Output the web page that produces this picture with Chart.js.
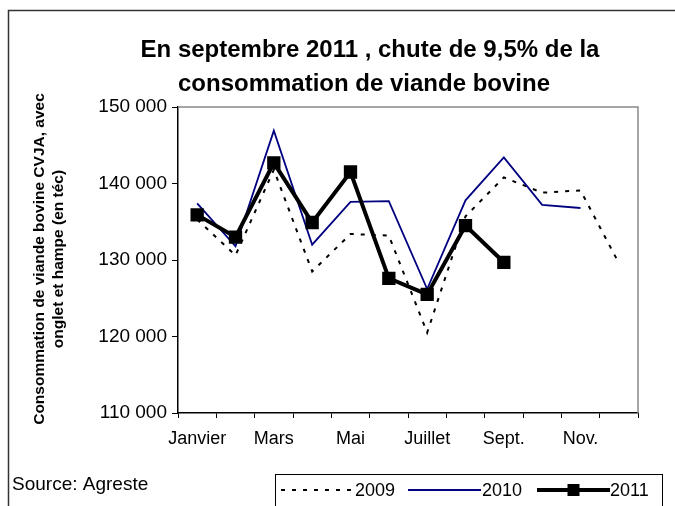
<!DOCTYPE html>
<html>
<head>
<meta charset="utf-8">
<script src="https://cdn.jsdelivr.net/npm/chart.js@4/dist/chart.umd.min.js"></script>
<style>
html, body { margin: 0; padding: 0; background: #fff; }
</style>
</head>
<body>
<canvas id="myLineChart" width="675" height="506"></canvas>
<script>
// données (tonnes équivalent carcasse)
var months = ['Janvier', 'Février', 'Mars', 'Avril', 'Mai', 'Juin', 'Juillet', 'Août', 'Sept.', 'Oct.', 'Nov.', 'Déc.'];
var tickLabels = ['Janvier', '', 'Mars', '', 'Mai', '', 'Juillet', '', 'Sept.', '', 'Nov.', ''];
var conso2009 = [135300, 130600, 141800, 128500, 133400, 133200, 120500, 135700, 140800, 138800, 139100, 129600];
var conso2010 = [137400, 131800, 146900, 132000, 137600, 137700, 126200, 137800, 143400, 137200, 136800, null];
var conso2011 = [135900, 133000, 142700, 134900, 141500, 127600, 125500, 134500, 129700, null, null, null];
var seriesLabels = ['2009', '2010', '2011'];

var FONT = "'Liberation Sans', Arial, sans-serif";

function formatNb(v) {
    return String(v).replace(/\B(?=(\d{3})+(?!\d))/g, ' ');
}

// cadre, titres, source et légende dessinés à la main
var decor = {
    id: 'decor',
    afterDraw: function (chart) {
        var ctx = chart.ctx;
        var area = chart.chartArea;
        ctx.save();

        // cadre extérieur
        ctx.strokeStyle = '#333';
        ctx.lineWidth = 1.5;
        ctx.strokeRect(8.5, 10.5, 700, 600);

        // bord haut et droit de la zone de tracé
        ctx.strokeStyle = '#888';
        ctx.lineWidth = 1.5;
        ctx.beginPath();
        ctx.moveTo(area.left, area.top);
        ctx.lineTo(area.right, area.top);
        ctx.lineTo(area.right, area.bottom);
        ctx.stroke();

        // titre
        ctx.fillStyle = '#000';
        ctx.textAlign = 'center';
        ctx.textBaseline = 'alphabetic';
        ctx.font = 'bold 24px ' + FONT;
        ctx.fillText('En septembre 2011 , chute de 9,5% de la', 370, 57);
        ctx.fillText('consommation de viande bovine', 364, 91);

        // titre axe Y
        ctx.save();
        ctx.translate(0, 259);
        ctx.rotate(-Math.PI / 2);
        ctx.font = 'bold 15.5px ' + FONT;
        ctx.textBaseline = 'middle';
        ctx.fillText('Consommation de viande bovine CVJA, avec', 0, 40);
        ctx.fillText('onglet et hampe (en téc)', 0, 59);
        ctx.restore();

        // source
        ctx.textAlign = 'left';
        ctx.font = '19px ' + FONT;
        ctx.fillText('Source: Agreste', 12, 490);

        // légende
        ctx.strokeStyle = '#000';
        ctx.lineWidth = 1;
        ctx.strokeRect(275.5, 474.5, 387, 50);
        var items = [
            { x1: 281, x2: 355, tx: 355 },
            { x1: 408, x2: 481, tx: 482 },
            { x1: 537, x2: 610, tx: 610 }
        ];
        var ly = 490;
        chart.data.datasets.forEach(function (ds, i) {
            var it = items[i];
            ctx.save();
            ctx.strokeStyle = ds.borderColor;
            ctx.lineWidth = ds.borderWidth;
            ctx.setLineDash(ds.borderDash || []);
            ctx.beginPath();
            ctx.moveTo(it.x1, ly);
            ctx.lineTo(it.x2, ly);
            ctx.stroke();
            ctx.restore();
            if (ds.pointRadius) {
                ctx.fillStyle = ds.pointBackgroundColor;
                ctx.fillRect((it.x1 + it.x2) / 2 - 6, ly - 6, 12, 12);
            }
            ctx.fillStyle = '#000';
            ctx.font = '18px ' + FONT;
            ctx.textBaseline = 'middle';
            ctx.fillText(ds.label, it.tx, ly + 1);
        });

        ctx.restore();
    }
};

var ctx = document.getElementById('myLineChart').getContext('2d');

var myLineChart = new Chart(ctx, {
    type: 'line',
    data: {
        labels: months,
        datasets: [{
            label: seriesLabels[0],
            data: conso2009,
            borderColor: '#000',
            borderWidth: 2,
            borderDash: [4, 7],
            pointRadius: 0,
            order: 2
        }, {
            label: seriesLabels[1],
            data: conso2010,
            borderColor: '#000080',
            borderWidth: 1.8,
            pointRadius: 0,
            order: 1
        }, {
            label: seriesLabels[2],
            data: conso2011,
            borderColor: '#000',
            borderWidth: 4,
            pointStyle: 'rect',
            pointRadius: 8,
            pointBorderWidth: 2,
            pointBackgroundColor: '#000',
            pointBorderColor: '#000',
            order: 0
        }]
    },
    options: {
        responsive: false,
        animation: false,
        devicePixelRatio: 1,
        layout: {
            padding: { top: 107, right: 37, left: 0, bottom: 0 }
        },
        plugins: {
            legend: { display: false },
            title: { display: false },
            tooltip: { enabled: false }
        },
        scales: {
            x: {
                offset: true,
                grid: { offset: true, drawOnChartArea: false, tickLength: 5, color: '#000' },
                border: { color: '#000', width: 1.5 },
                ticks: {
                    autoSkip: false,
                    maxRotation: 0,
                    padding: 10,
                    color: '#000',
                    font: { family: FONT, size: 18 },
                    callback: function (val, index) { return tickLabels[index]; }
                },
                afterFit: function (scale) { scale.height = 93; }
            },
            y: {
                min: 110000,
                max: 150000,
                grid: { drawOnChartArea: false, tickLength: 6, color: '#000' },
                border: { color: '#000', width: 1.5 },
                ticks: {
                    stepSize: 10000,
                    padding: 5,
                    color: '#000',
                    font: { family: FONT, size: 19 },
                    callback: function (v) { return formatNb(v); }
                },
                afterFit: function (scale) { scale.width = 178; }
            }
        }
    },
    plugins: [decor]
});
</script>
</body>
</html>
